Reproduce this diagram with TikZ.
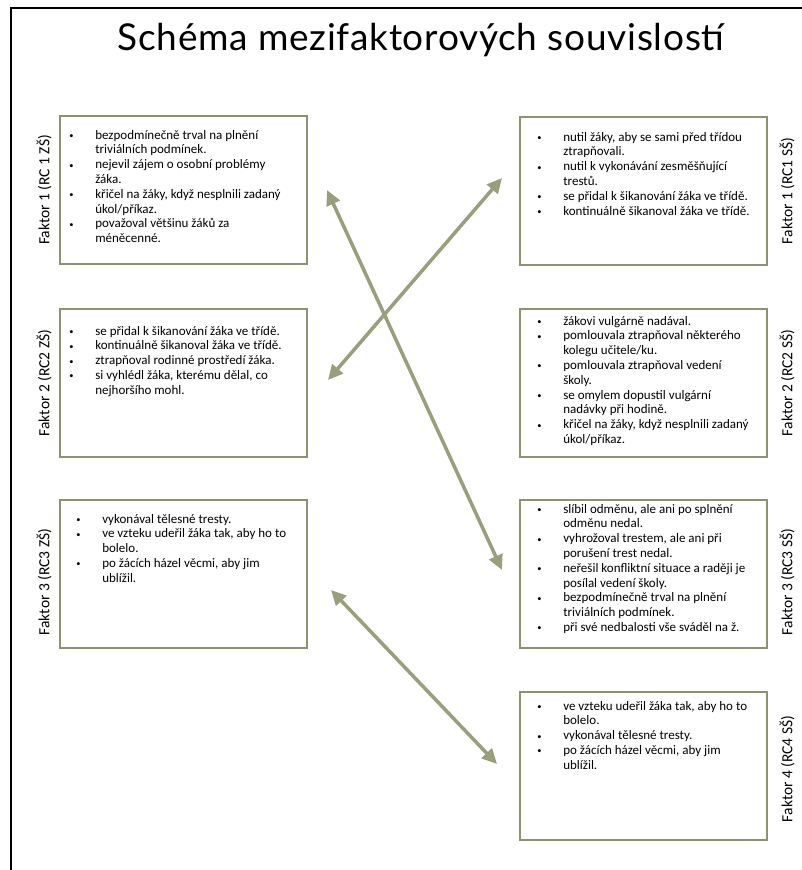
\documentclass[tikz,border=0pt]{standalone}
\usepackage{fontspec}
\setmainfont{Carlito}
\newfontfamily\nadpisfont[LetterSpace = 2]{Lato}
\usetikzlibrary{arrows.meta}

\definecolor{olivova}{RGB}{140,147,112}
\definecolor{sipka}{RGB}{152,159,124}

% odrazkovy seznam: odrazka | radek textu
\newcommand{\seznam}[1]{{\fontsize{13}{14.8}\selectfont
    \begin{tabular}{@{}p{27pt}@{}l@{}}#1\end{tabular}}}
\newcommand{\ob}{\hspace*{1pt}\raisebox{0.6pt}{\scalebox{0.65}{\textbullet}}}

\begin{document}
\begin{tikzpicture}[x = 1pt, y = -1pt, % souradnice v pixelech, y dolu
                > = {Triangle[length = 15pt, width = 14pt]}, % hroty sipek
                semithick % line style
            ]

            \tikzstyle{blok}=[draw = olivova, line width = 1.6pt, anchor = north west,
            minimum width = 247pt, minimum height = 148pt, inner sep = 0pt, outer sep = 0pt]
            \tikzstyle{obsah}=[anchor = north west, inner sep = 0pt]
            \tikzstyle{faktor}=[rotate = 90, inner sep = 0pt,
            font = \fontsize{15.5}{18}\selectfont]
            \tikzstyle{spoj}=[<->, draw = sipka, line width = 3.5pt]

            \useasboundingbox[fill = white] (0,0) rectangle (802,870);
            \draw[line width = 2.5pt] (11,870) -- (11,8) -- (802,8);

            \node[font = \nadpisfont\fontsize{37}{42}\selectfont, anchor = base]
            (nadpis) at (421,50) {Schéma mezifaktorových souvislostí};

            % ZS
            \node[blok] (l1) at (60,116) {};
            \node[blok] (l2) at (60,309) {};
            \node[blok] (l3) at (60,500) {};
            % SS
            \node[blok] (r1) at (520,117) {};
            \node[blok] (r2) at (520,309) {};
            \node[blok] (r3) at (520,500) {};
            \node[blok] (r4) at (520,692) {};

            \node[faktor] (f1l) at ([xshift = -16pt]l1.west) {Faktor 1 (RC 1 ZŠ)};
            \node[faktor] (f2l) at ([xshift = -16pt]l2.west) {Faktor 2 (RC2 ZŠ)};
            \node[faktor] (f3l) at ([xshift = -16pt, yshift = -8pt]l3.west) {Faktor 3 (RC3 ZŠ)};
            \node[faktor] (f1r) at ([xshift = 20pt]r1.east) {Faktor 1 (RC1 SŠ)};
            \node[faktor] (f2r) at ([xshift = 20pt]r2.east) {Faktor 2 (RC2 SŠ)};
            \node[faktor] (f3r) at ([xshift = 20pt, yshift = -8pt]r3.east) {Faktor 3 (RC3 SŠ)};
            \node[faktor] (f4r) at ([xshift = 20pt, yshift = -3pt]r4.east) {Faktor 4 (RC4 SŠ)};

            \node[obsah] (l1t) at ([xshift = 8pt, yshift = -12.5pt]l1.north west) {\seznam{
                \ob & bezpodmínečně trval na plnění\\
                    & triviálních podmínek.\\
                \ob & nejevil zájem o osobní problémy\\
                    & žáka.\\
                \ob & křičel na žáky, když nesplnili zadaný\\
                    & úkol/příkaz.\\
                \ob & považoval většinu žáků za\\
                    & méněcenné.}};
            \node[obsah] (l2t) at ([xshift = 8pt, yshift = -15.5pt]l2.north west) {\seznam{
                \ob & se přidal k šikanování žáka ve třídě.\\
                \ob & kontinuálně šikanoval žáka ve třídě.\\
                \ob & ztrapňoval rodinné prostředí žáka.\\
                \ob & si vyhlédl žáka, kterému dělal, co\\
                    & nejhoršího mohl.}};
            \node[obsah] (l3t) at ([xshift = 15pt, yshift = -12.5pt]l3.north west) {\seznam{
                \ob & vykonával tělesné tresty.\\
                \ob & ve vzteku udeřil žáka tak, aby ho to\\
                    & bolelo.\\
                \ob & po žácích házel věcmi, aby jim\\
                    & ublížil.}};
            \node[obsah] (r1t) at ([xshift = 16pt, yshift = -13.5pt]r1.north west) {\seznam{
                \ob & nutil žáky, aby se sami před třídou\\
                    & ztrapňovali.\\
                \ob & nutil k vykonávání zesměšňující\\
                    & trestů.\\
                \ob & se přidal k šikanování žáka ve třídě.\\
                \ob & kontinuálně šikanoval žáka ve třídě.}};
            \node[obsah] (r2t) at ([xshift = 16pt, yshift = -5.5pt]r2.north west) {\seznam{
                \ob & žákovi vulgárně nadával.\\
                \ob & pomlouvala ztrapňoval některého\\
                    & kolegu učitele/ku.\\
                \ob & pomlouvala ztrapňoval vedení\\
                    & školy.\\
                \ob & se omylem dopustil vulgární\\
                    & nadávky při hodině.\\
                \ob & křičel na žáky, když nesplnili zadaný\\
                    & úkol/příkaz.}};
            \node[obsah] (r3t) at ([xshift = 16pt, yshift = -2.5pt]r3.north west) {\seznam{
                \ob & slíbil odměnu, ale ani po splnění\\
                    & odměnu nedal.\\
                \ob & vyhrožoval trestem, ale ani při\\
                    & porušení trest nedal.\\
                \ob & neřešil konfliktní situace a raději je\\
                    & posílal vedení školy.\\
                \ob & bezpodmínečně trval na plnění\\
                    & triviálních podmínek.\\
                \ob & při své nedbalosti vše sváděl na ž.}};
            \node[obsah] (r4t) at ([xshift = 16pt, yshift = -7.5pt]r4.north west) {\seznam{
                \ob & ve vzteku udeřil žáka tak, aby ho to\\
                    & bolelo.\\
                \ob & vykonával tělesné tresty.\\
                \ob & po žácích házel věcmi, aby jim\\
                    & ublížil.}};

            % konce sipek
            \coordinate (s1a) at (327,190); \coordinate (s1b) at (502,570);
            \coordinate (s2a) at (328,380); \coordinate (s2b) at (502,178);
            \coordinate (s3a) at (331,590); \coordinate (s3b) at (497,764);

            \draw[spoj] (s1a) -- (s1b); \draw[spoj] (s2a) -- (s2b);
            \draw[spoj] (s3a) -- (s3b);
\end{tikzpicture}
\end{document}
